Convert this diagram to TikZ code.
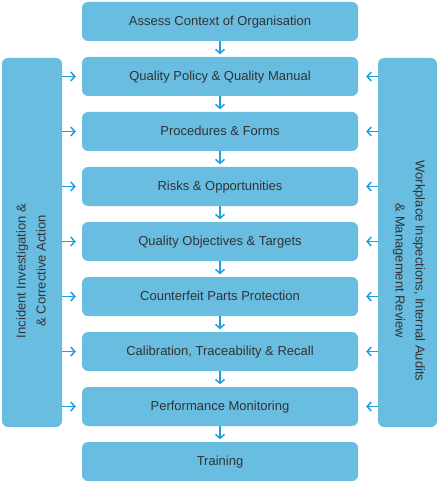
\documentclass[tikz,border=0pt]{standalone}
\usepackage{fontspec}
\setmainfont{Liberation Sans}
\usetikzlibrary{arrows.meta}
\definecolor{boxblue}{RGB}{104,189,225}
\definecolor{arrblue}{RGB}{27,161,226}
\definecolor{txtgray}{RGB}{51,51,51}

\begin{document}
\begin{tikzpicture}[x=1pt,y=-1pt,font=\fontsize{13}{20}\selectfont,
	>={Straight Barb[length=4pt,width=9pt]},
	stagebox/.style={fill=boxblue,rounded corners=6pt,minimum width=276pt,
		minimum height=39pt,text=txtgray,inner sep=0pt,
		text height=10pt,text depth=2.5pt},
	sidebox/.style={fill=boxblue,rounded corners=6pt,minimum width=60pt,
		minimum height=369pt,inner sep=0pt},
	sidetext/.style={text=txtgray,align=center,inner sep=0pt},
	arr/.style={->,draw=arrblue,line width=1.5pt}]
\useasboundingbox (0,0) rectangle (442,486);

%========================================
% MIDDLE: the stages, top to bottom
%========================================
\foreach \i/\txt in {1/Assess Context of Organisation,
	2/Quality Policy \& Quality Manual,
	3/Procedures \& Forms,
	4/Risks \& Opportunities,
	5/Quality Objectives \& Targets,
	6/Counterfeit Parts Protection,
	7/{Calibration, Traceability \& Recall},
	8/Performance Monitoring,
	9/Training}
\node[stagebox] (s\i) at (220,{21.5+55*(\i-1)}) {\txt};

%========================================
% SIDES: feedback panels
%========================================
\node[sidebox] (inc) at (32,242.5) {};
\node[sidetext,rotate=90] (inclbl) at (31,271)
{Incident Investigation \&\\\& Corrective Action};

\node[sidebox,minimum width=59pt] (wpi) at (407.5,242.5) {};
\node[sidetext,rotate=-90] (wpilbl) at (409,271)
{Workplace Inspections, Internal Audits\\\& Management Review};

%========================================
% ARROWS
%========================================
% Down the stages
\foreach \i [evaluate=\i as \j using int(\i+1)] in {1,...,8}
\draw[arr,shorten >=2.5pt] (s\i.south) -- (s\j.north);

% Panels into the stages
\foreach \i in {2,...,8}{
	\draw[arr,shorten >=6pt] (inc.east |- s\i.west) -- (s\i.west);
	\draw[arr,shorten >=8pt] (wpi.west |- s\i.east) -- (s\i.east);
}
\end{tikzpicture}
\end{document}
